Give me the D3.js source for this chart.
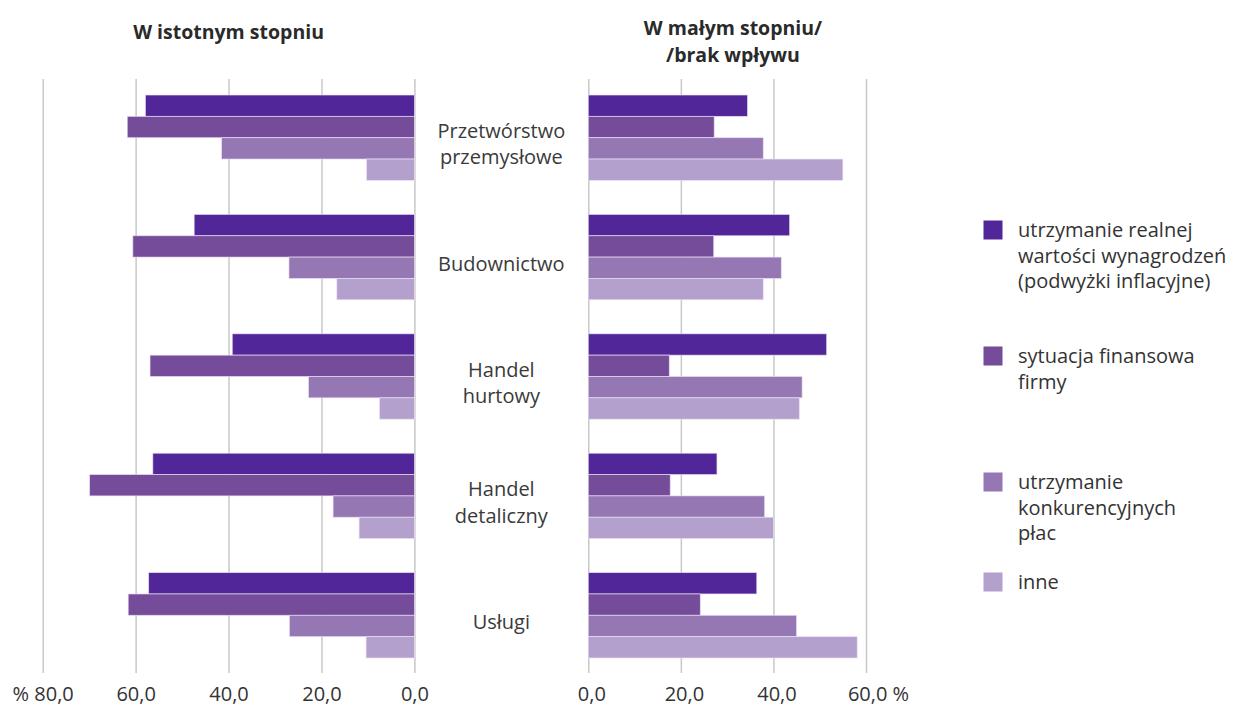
<!DOCTYPE html>
<html>
<head>
<meta charset="utf-8">
<script src="https://cdn.jsdelivr.net/npm/d3@7"></script>
<style>
  html, body { margin: 0; padding: 0; background: #ffffff; }
  svg { display: block; font-family: "Open Sans", "Noto Sans", sans-serif; }
</style>
</head>
<body>
<svg id="chart" width="1236" height="707"></svg>
<script>
// ---- data ----
const categories = [
  ["Przetwórstwo", "przemysłowe"],
  ["Budownictwo"],
  ["Handel", "hurtowy"],
  ["Handel", "detaliczny"],
  ["Usługi"]
];
const seriesNames = [
  ["utrzymanie realnej", "wartości wynagrodzeń", "(podwyżki inflacyjne)"],
  ["sytuacja finansowa", "firmy"],
  ["utrzymanie", "konkurencyjnych", "płac"],
  ["inne"]
];
// "W istotnym stopniu" (left panel), per category, per series
const significant = [
  [57.9, 61.8, 41.5, 10.3],
  [47.4, 60.6, 27.0, 16.7],
  [39.2, 56.9, 22.8, 7.5],
  [56.3, 69.9, 17.5, 11.9],
  [57.2, 61.6, 26.9, 10.4]
];
// "W małym stopniu / brak wpływu" (right panel)
const minor = [
  [34.4, 27.2, 37.8, 55.0],
  [43.5, 27.1, 41.7, 37.8],
  [51.5, 17.5, 46.2, 45.6],
  [27.8, 17.7, 38.1, 40.0],
  [36.4, 24.2, 45.0, 58.1]
];
const leftTicks = [0, 20, 40, 60, 80];
const rightTicks = [0, 20, 40, 60];
const titleLeft = ["W istotnym stopniu"];
const titleRight = ["W małym stopniu/", "/brak wpływu"];
const colors = ["#512698", "#754c9a", "#9577b3", "#b3a0cc"];

// ---- layout ----
const svg = d3.select("#chart");
const gridTop = 79, gridBottom = 673;
const fmt = v => d3.format(".1f")(v).replace(".", ",");

const xL = d3.scaleLinear().domain([0, 80]).range([414.4, 42.7]);
const xR = d3.scaleLinear().domain([0, 60]).range([588.3, 866]);
const catIdx = d3.range(categories.length);
const y = d3.scaleBand().domain(catIdx).range([78, 675]).paddingInner(0.285).paddingOuter(0.1425);
const ys = d3.scaleBand().domain(d3.range(seriesNames.length)).range([0, y.bandwidth()]);

// axes / gridlines
function drawAxis(scale, ticks, labelFn, dxFn) {
  const ax = d3.axisBottom(scale)
    .tickValues(ticks)
    .tickSize(-(gridBottom - gridTop))
    .tickPadding(14)
    .tickFormat(labelFn);
  const g = svg.append("g")
    .attr("transform", `translate(0,${gridBottom})`)
    .call(ax);
  g.select(".domain").remove();
  g.selectAll(".tick line").attr("stroke", "#c8c8c8").attr("stroke-width", 1.5);
  g.selectAll(".tick text")
    .attr("fill", "#333")
    .attr("font-size", 20)
    .attr("font-family", "\"Open Sans\", sans-serif")
    .attr("dx", dxFn);
  return g;
}
drawAxis(xL, leftTicks, v => (v === 80 ? "% " : "") + fmt(v), v => 0);
drawAxis(xR, rightTicks, v => fmt(v) + (v === 60 ? " %" : ""), v => (v === 60 ? 12 : 3));

// bars
function drawBars(data, scale, side) {
  const groups = svg.append("g").selectAll("g")
    .data(data)
    .join("g")
    .attr("transform", (d, i) => `translate(0,${y(i)})`);
  groups.selectAll("rect")
    .data(d => d)
    .join("rect")
    .attr("x", v => side === "left" ? scale(v) : scale(0))
    .attr("width", v => Math.abs(scale(v) - scale(0)))
    .attr("y", (v, j) => ys(j))
    .attr("height", ys.bandwidth())
    .attr("fill", (v, j) => colors[j])
    .attr("stroke", "rgba(235,225,245,0.8)")
    .attr("stroke-width", 0.8);
}
drawBars(significant, xL, "left");
drawBars(minor, xR, "right");

// category labels
const midX = (xL(0) + xR(0)) / 2;
const lh = 26.5;
svg.append("g").selectAll("text")
  .data(categories)
  .join("text")
  .attr("text-anchor", "middle")
  .attr("font-size", 20)
  .attr("fill", "#3a3a3a")
  .each(function (lines, i) {
    const cy = y(i) + y.bandwidth() / 2 + 13.5;
    d3.select(this).selectAll("tspan")
      .data(lines)
      .join("tspan")
      .attr("x", midX)
      .attr("y", (t, k) => cy + (k - (lines.length - 1) / 2) * lh)
      .text(t => t);
  });

// titles
svg.append("text")
  .attr("x", (xL(0) + xL(80)) / 2)
  .attr("y", 39)
  .attr("text-anchor", "middle")
  .attr("font-size", 19.5)
  .attr("font-weight", "bold")
  .attr("fill", "#2a2a2a")
  .text(titleLeft[0]);
svg.append("text")
  .attr("text-anchor", "middle")
  .attr("font-size", 19.5)
  .attr("font-weight", "bold")
  .attr("fill", "#2a2a2a")
  .selectAll("tspan")
  .data(titleRight)
  .join("tspan")
  .attr("x", 733)
  .attr("y", (t, k) => 35 + k * 26.5)
  .text(t => t);

// legend
const legendY = [230, 356, 482, 582];
const leg = svg.append("g").selectAll("g")
  .data(seriesNames)
  .join("g")
  .attr("transform", (d, i) => `translate(983.5,${legendY[i]})`);
leg.append("rect")
  .attr("x", 0).attr("y", -9.5)
  .attr("width", 19).attr("height", 19)
  .attr("fill", (d, i) => colors[i]);
leg.append("text")
  .attr("font-size", 20)
  .attr("fill", "#333")
  .selectAll("tspan")
  .data(d => d)
  .join("tspan")
  .attr("x", 34.5)
  .attr("y", (t, k) => 7 + k * 25.5)
  .text(t => t);
</script>
</body>
</html>
